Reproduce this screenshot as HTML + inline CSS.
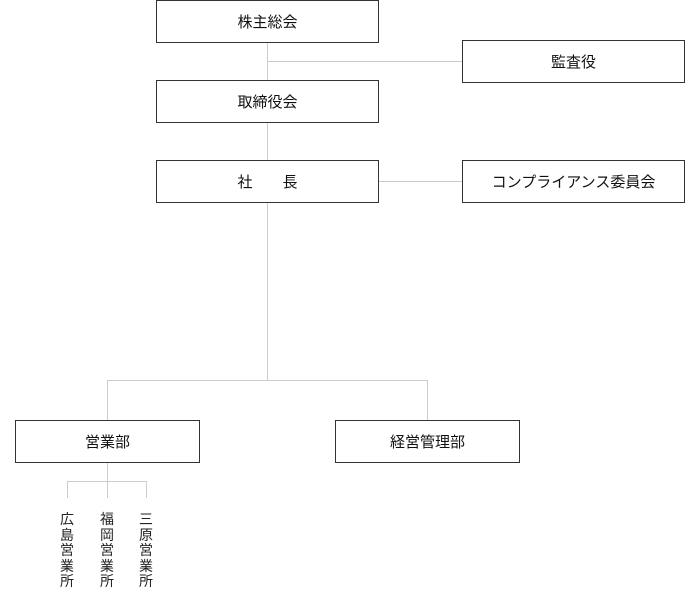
<!DOCTYPE html>
<html><head><meta charset="utf-8"><style>
body{margin:0;width:700px;height:600px;background:#fff;position:relative;font-family:"Liberation Sans","Noto Sans CJK JP",sans-serif;color:#222;overflow:hidden}
.b{position:absolute;border:1px solid #333;box-sizing:border-box;height:43px;display:flex;align-items:center;justify-content:center;font-size:15px;background:#fff;color:#111}
.l{position:absolute;background:#ccc}
.v{position:absolute;width:16px;font-size:14px;line-height:15.5px;text-align:center}
</style></head><body>
<div class="l" style="left:267px;top:42px;width:1px;height:339px"></div>
<div class="l" style="left:267px;top:61px;width:196px;height:1px"></div>
<div class="l" style="left:378px;top:181px;width:85px;height:1px"></div>
<div class="l" style="left:107px;top:380px;width:321px;height:1px"></div>
<div class="l" style="left:107px;top:380px;width:1px;height:41px"></div>
<div class="l" style="left:427px;top:380px;width:1px;height:41px"></div>
<div class="l" style="left:107px;top:462px;width:1px;height:36px"></div>
<div class="l" style="left:67px;top:481px;width:80px;height:1px"></div>
<div class="l" style="left:67px;top:481px;width:1px;height:17px"></div>
<div class="l" style="left:146px;top:481px;width:1px;height:17px"></div>
<div class="b" style="left:156px;top:0;width:223px">株主総会</div>
<div class="b" style="left:156px;top:80px;width:223px">取締役会</div>
<div class="b" style="left:156px;top:160px;width:223px">社　　長</div>
<div class="b" style="left:462px;top:40px;width:223px">監査役</div>
<div class="b" style="left:462px;top:160px;width:223px">コンプライアンス委員会</div>
<div class="b" style="left:15px;top:420px;width:185px">営業部</div>
<div class="b" style="left:335px;top:420px;width:185px">経営管理部</div>
<div class="v" style="left:59px;top:512px">広<br>島<br>営<br>業<br>所</div>
<div class="v" style="left:99px;top:512px">福<br>岡<br>営<br>業<br>所</div>
<div class="v" style="left:138px;top:512px">三<br>原<br>営<br>業<br>所</div>
</body></html>
